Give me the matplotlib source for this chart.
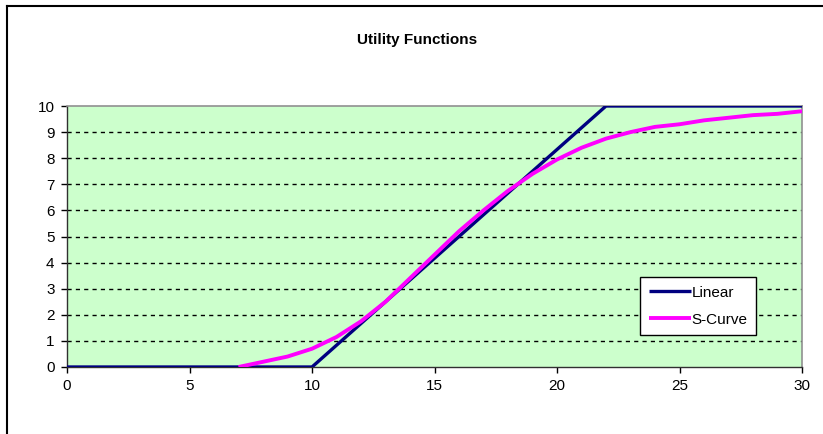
import numpy as np
import matplotlib
matplotlib.use("Agg")
import matplotlib.pyplot as plt
from matplotlib.lines import Line2D

plt.rcParams['font.family'] = ['Liberation Sans', 'DejaVu Sans']

# Data
linear_x = [0, 10, 22, 30]
linear_y = [0, 0, 10, 10]

scurve_x = [7, 8, 9, 10, 11, 12, 13, 14, 15, 16, 17, 18, 19, 20, 21, 22,
            23, 24, 25, 26, 27, 28, 29, 30]
scurve_y = [0, 0.2, 0.4, 0.7, 1.15, 1.75, 2.5, 3.4, 4.3, 5.2, 6.0, 6.75,
            7.4, 7.95, 8.4, 8.75, 9.0, 9.2, 9.3, 9.45, 9.55, 9.65, 9.7, 9.8]

x_ticks = [0, 5, 10, 15, 20, 25, 30]
y_ticks = list(range(0, 11))

W, H = 823, 434
fig = plt.figure(figsize=(W / 100, H / 100), dpi=100)
fig.patch.set_facecolor('white')

# outer chart border (only left/top visible in the crop)
fig.add_artist(Line2D([7 / W, 7 / W], [0, 1 - 6 / H], transform=fig.transFigure,
                      color='black', lw=1.5))
fig.add_artist(Line2D([7 / W, 1], [1 - 6 / H, 1 - 6 / H], transform=fig.transFigure,
                      color='black', lw=1.5))

left, right, top, bottom = 67, 802, 106, 367
ax = fig.add_axes([left / W, 1 - bottom / H, (right - left) / W, (bottom - top) / H])
ax.set_facecolor('#CCFFCC')

ax.plot(linear_x, linear_y, color='#000080', lw=2.4, label='Linear',
        solid_capstyle='butt', solid_joinstyle='round', zorder=3)
ax.plot(scurve_x, scurve_y, color='#FF00FF', lw=2.8, label='S-Curve',
        solid_capstyle='butt', solid_joinstyle='round', zorder=4)

ax.set_xlim(0, 30)
ax.set_ylim(0, 10)
ax.set_xticks(x_ticks)
ax.set_yticks(y_ticks)
ax.tick_params(axis='both', direction='out', length=4, width=1, color='black',
               labelsize=11, labelcolor='black')
ax.tick_params(axis='x', pad=5)
ax.tick_params(axis='y', pad=5)

# dashed horizontal gridlines
for yv in y_ticks[1:-1]:
    ax.axhline(yv, color='black', lw=1, ls=(0, (3, 3)), zorder=1)

for side in ['left', 'bottom']:
    ax.spines[side].set_color('#303030')
    ax.spines[side].set_linewidth(1)
for side in ['top', 'right']:
    ax.spines[side].set_color('#909090')
    ax.spines[side].set_linewidth(1.2)

leg = ax.legend(loc='upper left', bbox_to_anchor=(0.780, 0.344), borderaxespad=0,
                fancybox=False, framealpha=1, edgecolor='black', fontsize=11,
                handlelength=2.8, handletextpad=0.0, borderpad=0.55,
                labelspacing=0.85)
leg.get_frame().set_linewidth(1)

fig.text(417 / W, 1 - 40 / H, 'Utility Functions', ha='center', va='center',
         fontsize=11, fontweight='bold')

fig.savefig('out.png', dpi=100)
